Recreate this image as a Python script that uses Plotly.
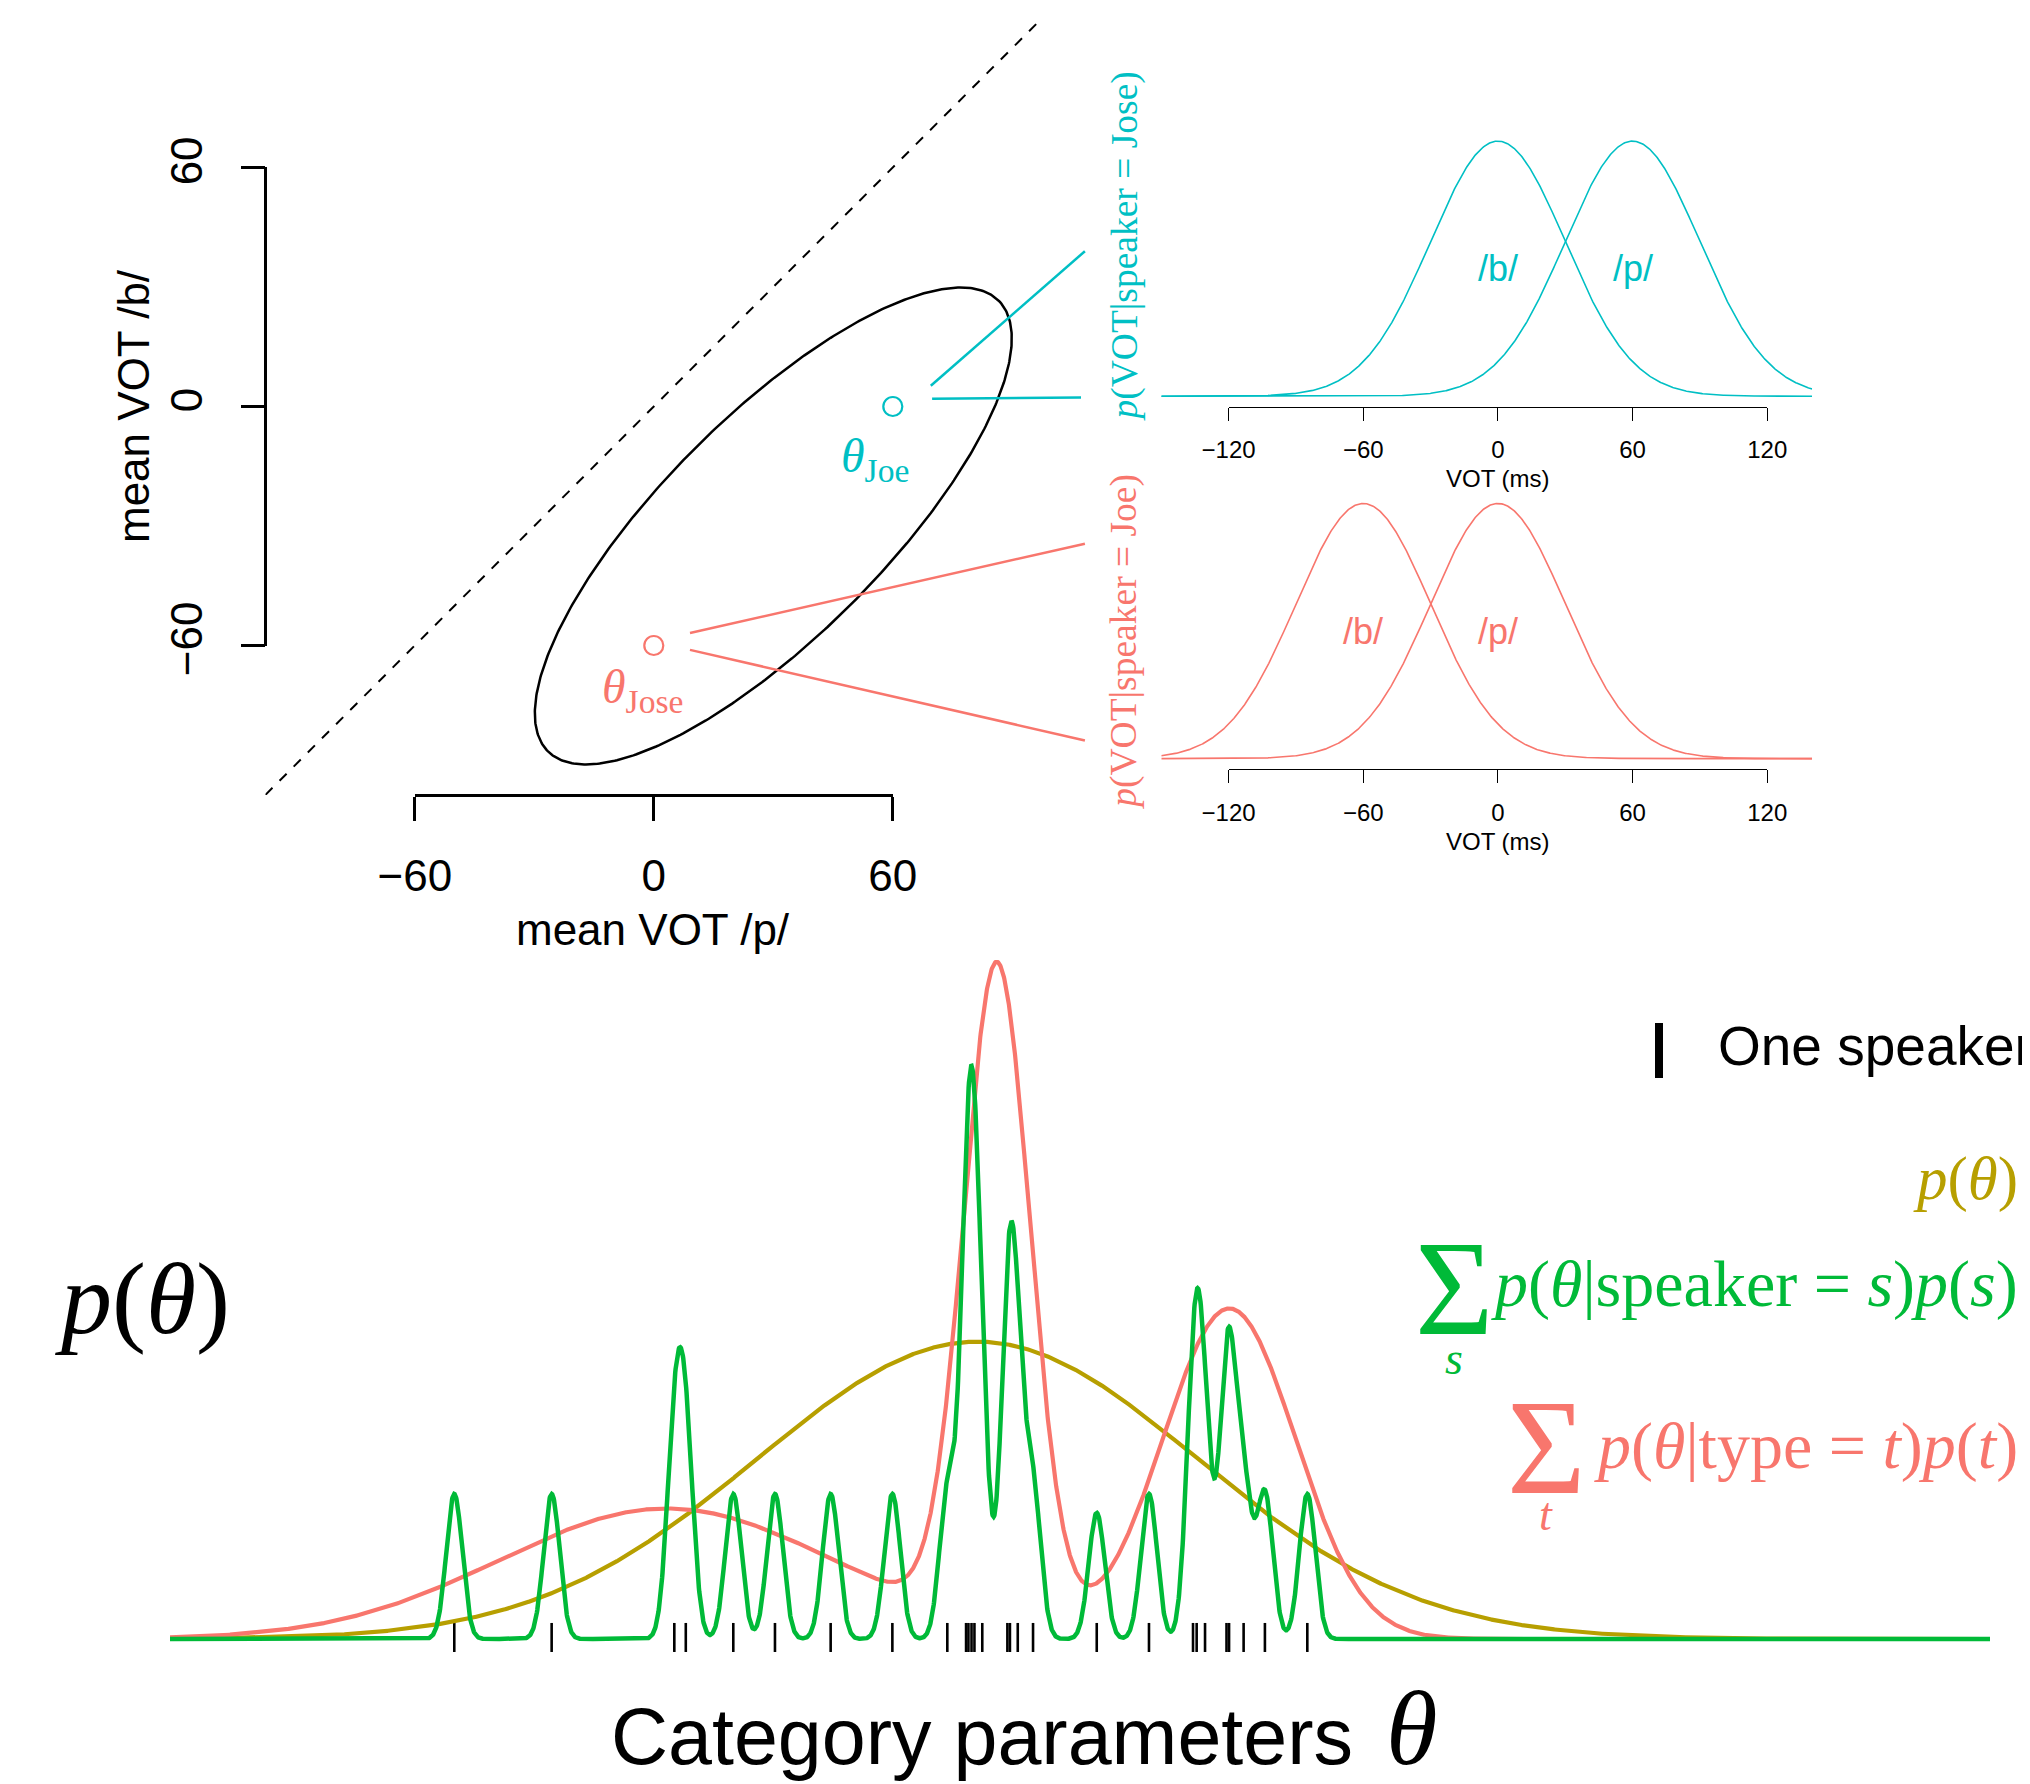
import numpy as np
import plotly.graph_objects as go

# window is 2030x1784; the page body has an 8px margin, so the figure is drawn
# 8px smaller and all layout positions are given in window pixels.
WIN_W, WIN_H, OFF = 2030, 1784, 8
W, H = WIN_W - OFF, WIN_H - OFF
def px(x): return (x - OFF) / W
def py(y): return 1 - (y - OFF) / H

RED, OLIVE, GREEN, CYAN = "#F8766D", "#B79F00", "#00BA38", "#00BFC4"
SANS = "Liberation Sans, Arial, Helvetica, sans-serif"
SERIF = "Liberation Serif, Times New Roman, serif"

# ---------------- data: top-left (speaker means) ----------------
speaker_names = ["Joe", "Jose"]
speaker_mean_p = [60, 0]
speaker_mean_b = [0, -60]
speaker_colors = [CYAN, RED]
ellipse_center = (30, -30)
ellipse_semi_axes = (80, 27.7)
ellipse_angle_deg = 45
mean_ticks = [-60, 0, 60]
mean_range = [-97.5, 97.5]

# ---------------- data: top-right (category distributions) ----------------
vot_ticks = [-120, -60, 0, 60, 120]
vot_range = [-150, 140]
cat_labels = ["/b/", "/p/"]
panel_titles = ["Jose", "Joe"]
panel_means = [[0, 60], [-60, 0]]
panel_colors = [CYAN, RED]
cat_sd = 30

# ---------------- data: bottom (category parameters) ----------------
speaker_theta = [15.62, 20.97, 27.71, 28.34, 30.95, 33.24, 36.30, 39.69,
                 42.71, 43.74, 43.87, 44.04, 44.20, 44.63, 46.01, 46.15,
                 46.58, 47.42, 50.92, 53.79, 56.21, 56.41, 56.87, 58.05,
                 58.19, 58.99, 60.16, 62.49]
speaker_weight = [1, 1, 1.3, 1.3, 1, 1, 1, 1,
                  1, 0.97, 0.97, 0.97, 0.97, 0.97, 1.1, 1.1,
                  1.1, 1, 0.87, 1, 0.97, 0.97, 0.97, 1,
                  1, 1, 1, 1]
speaker_sd = 0.44
speaker_prob = 0.01775
type_means = [27.29, 45.44, 58.21]
type_sds = [9.18, 1.821, 3.63]
type_probs = [1 / 3, 1 / 3, 1 / 3]
prior_mean, prior_sd = 44.36, 12.09
theta_range = [0, 100]


def npdf(x, m, s):
    return np.exp(-0.5 * ((x - m) / s) ** 2) / (s * np.sqrt(2 * np.pi))


fig = go.Figure()

# ======== top-left panel geometry (window pixels) ========
TL_X0, TL_X1, TL_YT, TL_YB = 265.4, 1042.2, 18.1, 794.9
span = mean_range[1] - mean_range[0]
def tl_x(v): return TL_X0 + (v - mean_range[0]) / span * (TL_X1 - TL_X0)
def tl_y(v): return TL_YB - (v - mean_range[0]) / span * (TL_YB - TL_YT)

fig.add_trace(go.Scatter(x=mean_range, y=mean_range, mode="lines",
                         line=dict(color="black", width=2, dash="10px,10px"),
                         xaxis="x", yaxis="y", hoverinfo="skip"))
t = np.linspace(0, 2 * np.pi, 500)
phi = np.deg2rad(ellipse_angle_deg)
u = ellipse_semi_axes[0] * np.cos(t)
v = ellipse_semi_axes[1] * np.sin(t)
ex = ellipse_center[0] + u * np.cos(phi) - v * np.sin(phi)
ey = ellipse_center[1] + u * np.sin(phi) + v * np.cos(phi)
fig.add_trace(go.Scatter(x=ex, y=ey, mode="lines", line=dict(color="black", width=2.5),
                         xaxis="x", yaxis="y", hoverinfo="skip"))
fig.add_trace(go.Scatter(x=speaker_mean_p, y=speaker_mean_b, mode="markers",
                         marker=dict(symbol="circle-open", size=19, color=speaker_colors,
                                     line=dict(width=2.2, color=speaker_colors)),
                         xaxis="x", yaxis="y", cliponaxis=False, hoverinfo="skip"))
fig.add_trace(go.Scatter(x=[None], y=[None], xaxis="x2", yaxis="y2", showlegend=False))

# ======== top-right panels ========
VX0, VX1 = 1161.3, 1812.1
vspan = vot_range[1] - vot_range[0]
def v_x(val): return VX0 + (val - vot_range[0]) / vspan * (VX1 - VX0)
peak = 1 / (cat_sd * np.sqrt(2 * np.pi))
kpx = 255.1 / peak
yr = [-0.0006, 0.0139]
bases = [396.2, 758.6]
axis_lines = [406.5, 769.0]
vot = np.linspace(vot_range[0], vot_range[1], 800)
panel_axes = [("x3", "y3", "x4"), ("x5", "y5", "x6")]
for i in range(2):
    xa, ya, xax = panel_axes[i]
    for m in panel_means[i]:
        fig.add_trace(go.Scatter(x=vot, y=npdf(vot, m, cat_sd), mode="lines",
                                 line=dict(color=panel_colors[i], width=1.6),
                                 xaxis=xa, yaxis=ya, hoverinfo="skip"))
    fig.add_trace(go.Scatter(x=[None], y=[None], xaxis=xax, yaxis=ya, showlegend=False))

# ======== bottom panel ========
BX0, BX1, BASE, KB = 170, 1990, 1639, 9011
byr = [-0.003, 0.08]
theta = np.linspace(theta_range[0], theta_range[1], 5001)
prior = npdf(theta, prior_mean, prior_sd)
types = sum(p * npdf(theta, m, s) for p, m, s in zip(type_probs, type_means, type_sds))
spk = sum(speaker_prob * w * npdf(theta, m, speaker_sd) for w, m in zip(speaker_weight, speaker_theta))
rx, ry = [], []
for tt in speaker_theta:
    rx += [tt, tt, None]
    ry += [-0.00144, 0.00178, None]
fig.add_trace(go.Scatter(x=rx, y=ry, mode="lines", line=dict(color="black", width=2.6),
                         xaxis="x7", yaxis="y7", hoverinfo="skip"))
fig.add_trace(go.Scatter(x=theta, y=prior, mode="lines", line=dict(color=OLIVE, width=4.2),
                         xaxis="x7", yaxis="y7", hoverinfo="skip"))
fig.add_trace(go.Scatter(x=theta, y=types, mode="lines", line=dict(color=RED, width=4.2),
                         xaxis="x7", yaxis="y7", hoverinfo="skip"))
fig.add_trace(go.Scatter(x=theta, y=spk, mode="lines", line=dict(color=GREEN, width=4.5),
                         xaxis="x7", yaxis="y7", hoverinfo="skip"))

hidden = dict(visible=False, showgrid=False, zeroline=False, fixedrange=True)
layout_axes = {}
layout_axes["xaxis"] = dict(hidden, domain=[px(TL_X0), px(TL_X1)], range=mean_range, anchor="y")
layout_axes["yaxis"] = dict(hidden, domain=[py(TL_YB), py(TL_YT)], range=mean_range, anchor="x")
axstyle = dict(showgrid=False, zeroline=False, showline=True, ticks="outside",
               color="black", linecolor="black", tickcolor="black", anchor="free")
layout_axes["xaxis2"] = dict(axstyle, domain=[px(tl_x(-60)), px(tl_x(60))], range=[-60, 60],
                             position=py(TL_YB), tickvals=mean_ticks, ticklen=24, tickwidth=2.5,
                             linewidth=2.5, tickfont=dict(size=44, family=SANS, color="black"),
                             ticklabelstandoff=18)
layout_axes["yaxis2"] = dict(axstyle, domain=[py(tl_y(-60)), py(tl_y(60))], range=[-60, 60],
                             position=px(TL_X0), side="left", tickvals=mean_ticks, ticklen=24,
                             tickwidth=2.5, linewidth=2.5, tickangle=-90,
                             tickfont=dict(size=44, family=SANS, color="black"),
                             ticklabelstandoff=21)
for i in range(2):
    xa, ya, xax = panel_axes[i]
    base = bases[i]
    layout_axes["xaxis" + xa[1:]] = dict(hidden, domain=[px(VX0), px(VX1)], range=vot_range, anchor=ya)
    layout_axes["yaxis" + ya[1:]] = dict(hidden, domain=[py(base - yr[0] * kpx), py(base - yr[1] * kpx)],
                                         range=yr, anchor=xa)
    layout_axes["xaxis" + xax[1:]] = dict(axstyle, domain=[px(v_x(-120)), px(v_x(120))], range=[-120, 120],
                                          position=py(axis_lines[i]), tickvals=vot_ticks, ticklen=13,
                                          tickwidth=1.3, linewidth=1.3,
                                          tickfont=dict(size=24, family=SANS, color="black"),
                                          ticklabelstandoff=9)
layout_axes["xaxis7"] = dict(hidden, domain=[px(BX0), px(BX1)], range=theta_range, anchor="y7")
layout_axes["yaxis7"] = dict(hidden, domain=[py(BASE - byr[0] * KB), py(BASE - byr[1] * KB)],
                             range=byr, anchor="x7")


def ann(text, x, y, size, color="black", family=SANS, xanchor="center", yanchor="middle", angle=0):
    return dict(text=text, x=px(x), y=py(y), xref="paper", yref="paper", showarrow=False,
                font=dict(size=size, color=color, family=family), xanchor=xanchor,
                yanchor=yanchor, textangle=angle)


annotations = [
    ann("mean VOT /p/", 652.5, 929.5, 44),
    ann("mean VOT /b/", 133, 406, 44, angle=-90),
    ann("<i>θ</i><sub>Joe</sub>", 875, 459, 48, color=CYAN, family=SERIF),
    ann("<i>θ</i><sub>Jose</sub>", 642, 690, 48, color=RED, family=SERIF),
    ann("VOT (ms)", v_x(0), 479, 24),
    ann("VOT (ms)", v_x(0), 841.5, 24),
    ann("<i>p</i>(VOT|speaker = %s)" % panel_titles[0], 1124, 246.5, 37.5, color=CYAN, family=SERIF, angle=-90),
    ann("<i>p</i>(VOT|speaker = %s)" % panel_titles[1], 1124, 641.7, 37.5, color=RED, family=SERIF, angle=-90),
    ann("<i>p</i>(<i>θ</i>)", 142, 1298, 102, family=SERIF),
    ann("Category parameters", 609, 1736.5, 79, xanchor="left"),
    ann("<i>θ</i>", 1411.5, 1728, 105, family=SERIF),
    ann("One speaker", 1716, 1046, 55, xanchor="left"),
    ann("<i>p</i>(<i>θ</i>)", 2020, 1178.5, 61, color=OLIVE, family=SERIF, xanchor="right"),
    ann("Σ", 1454, 1288.5, 135, color=GREEN, family=SERIF),
    ann("<i>s</i>", 1453.5, 1358, 46, color=GREEN, family=SERIF),
    ann("<i>p</i>(<i>θ</i>|speaker = <i>s</i>)<i>p</i>(<i>s</i>)", 2020, 1284, 66, color=GREEN,
        family=SERIF, xanchor="right"),
    ann("Σ", 1546, 1447.5, 135, color=RED, family=SERIF),
    ann("<i>t</i>", 1545.5, 1514, 46, color=RED, family=SERIF),
    ann("<i>p</i>(<i>θ</i>|type = <i>t</i>)<i>p</i>(<i>t</i>)", 2020, 1446, 66, color=RED,
        family=SERIF, xanchor="right"),
]
for i in range(2):
    xa, ya, _ = panel_axes[i]
    for lab, m in zip(cat_labels, panel_means[i]):
        annotations.append(dict(text=lab, x=m, y=peak / 2, xref=xa, yref=ya, showarrow=False,
                                font=dict(size=36, color=panel_colors[i], family=SANS),
                                xanchor="center", yanchor="middle"))

connectors = [
    ((930.8, 385.8), (1084.9, 251.2), CYAN),
    ((932.1, 398.7), (1081.0, 397.4), CYAN),
    ((690.0, 633.0), (1084.9, 543.7), RED),
    ((690.0, 649.9), (1084.9, 740.5), RED),
]
shapes = []
for (x0, y0), (x1, y1), c in connectors:
    shapes.append(dict(type="line", xref="paper", yref="paper", x0=px(x0), y0=py(y0),
                       x1=px(x1), y1=py(y1), line=dict(color=c, width=2.5)))
shapes.append(dict(type="line", xref="paper", yref="paper", x0=px(1659), y0=py(1023),
                   x1=px(1659), y1=py(1078), line=dict(color="black", width=8)))

fig.update_layout(width=W, height=H, margin=dict(l=0, r=0, t=0, b=0),
                  paper_bgcolor="white", plot_bgcolor="rgba(0,0,0,0)", showlegend=False,
                  template="none", annotations=annotations, shapes=shapes,
                  font=dict(family=SANS, color="black"), **layout_axes)

fig.write_html("out.html")
